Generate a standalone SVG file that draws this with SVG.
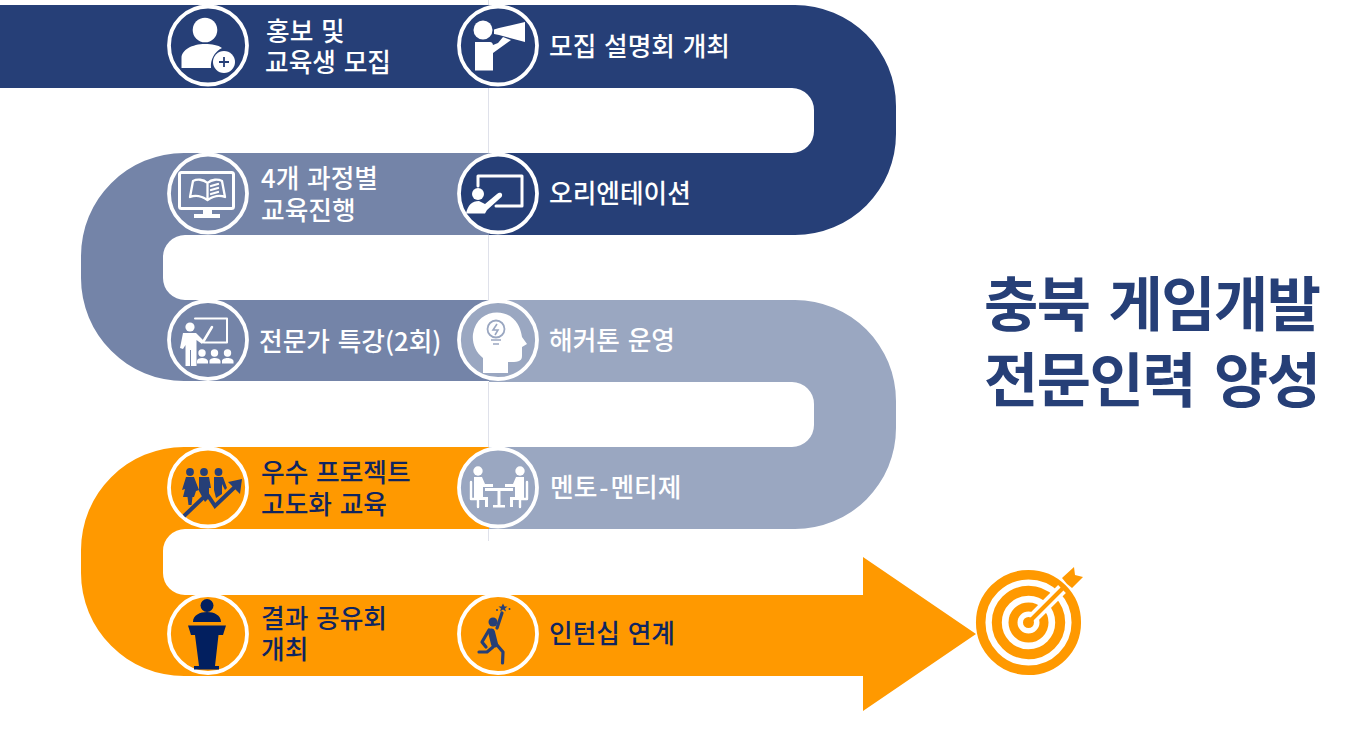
<svg xmlns="http://www.w3.org/2000/svg" width="1360" height="730" viewBox="0 0 1360 730">
<style>
text{font-family:"Noto Sans CJK KR","Noto Sans",sans-serif;font-weight:500;font-size:25.700px;word-spacing:2px}
.w{fill:#fff}.n{fill:#0f2560}
.ring{stroke:#fff;stroke-width:3.800}
.t{fill:#263f77;font-size:59px;font-weight:700;letter-spacing:-1.500px;word-spacing:7px}
.iw{fill:#fff}.in{fill:#263f77}.id{fill:#021f5f}
.sw{fill:none;stroke:#fff;stroke-linecap:round;stroke-linejoin:round}
.sn{fill:none;stroke:#263f77;stroke-linecap:round;stroke-linejoin:round}
</style>
<g id="connectors">
<path id="band-navy" fill="#263f77" d="M0 5H795A101 101 0 0 1 896 106V134A101 101 0 0 1 795 235H489V153H792A22 22 0 0 0 814 131V110A22 22 0 0 0 792 88H0Z"/>
<path id="band-slate" fill="#7484a8" d="M489 153H184A103 103 0 0 0 81 256V278A103 103 0 0 0 184 381H489V300H185A22 22 0 0 1 163 278V257A22 22 0 0 1 185 235H489Z"/>
<path id="band-light" fill="#9aa7c1" d="M489 300H795A101 101 0 0 1 896 401V428A101 101 0 0 1 795 529H489V447H792A22 22 0 0 0 814 425V404A22 22 0 0 0 792 382H489Z"/>
<path id="band-orange" fill="#ff9900" d="M489 447H184A103 103 0 0 0 81 550V573A103 103 0 0 0 184 676H863V711L976 634L863 557V595H185A22 22 0 0 1 163 573V551A22 22 0 0 1 185 529H489Z"/>
<path stroke="#dfe1ea" stroke-width="1" d="M488.500 0V5M488.500 88V153M488.500 235V300M488.500 382V447M488.500 529V541"/>
</g>
<g id="n-promo"><circle class="ring" cx="208" cy="45.500" r="39" fill="#263f77"/>
<circle class="iw" cx="205" cy="30" r="12.300"/><path class="iw" d="M181.500 68V58C181.500 50 192 44 205 44C212 44 218 45 222 48A20 20 0 0 0 211 68Z"/><circle class="iw" cx="224" cy="62" r="11"/><path d="M219 62H229M224 57V67" stroke="#263f77" stroke-width="1.800"/>
<text class="w"><tspan x="266" y="41">홍보 및</tspan><tspan x="265" y="72">교육생 모집</tspan></text></g>
<g id="n-info"><circle class="ring" cx="498" cy="45.500" r="39" fill="#263f77"/>
<circle class="iw" cx="483" cy="30" r="9.500"/><path class="iw" d="M475 42H490Q492.500 42 493 45V53L511 40L503 37L498 43L493 45V70.500H475Z"/><path class="iw" d="M494 29.500L499 28L525 22V42L499 35L494 34Z"/>
<text class="w" x="549" y="56">모집 설명회 개최</text></g>
<g id="n-ot"><circle class="ring" cx="498" cy="193.500" r="39" fill="#263f77"/>
<path class="sw" stroke-width="3" d="M478 186V176H522V206H496"/><circle class="iw" cx="478" cy="194" r="6"/><path class="iw" d="M466 213.500C468 205 472 201 479 201L485 204L497 194C500.500 191 503.500 194 501.500 197L487 210L485 213.500Z"/>
<text class="w" x="549" y="203">오리엔테이션</text></g>
<g id="n-course"><circle class="ring" cx="208" cy="193.500" r="39" fill="#7484a8"/>
<rect x="179.500" y="172.500" width="54" height="36" rx="2" fill="none" stroke="#fff" stroke-width="3"/><path class="iw" d="M203 208H212V214H220V218H194V214H203Z"/>
<path class="sw" stroke-width="2.300" d="M207.500 183C203 179 197 179 193 181L190 197C195 195 202 196 207.500 200C213 196 220 195 225 197L222 181C218 179 212 179 207.500 183V200M211 186L218 184M211 190L218 188M211 194L218 192"/>
<text class="w"><tspan x="261" y="188">4개 과정별</tspan><tspan x="261" y="220">교육진행</tspan></text></g>
<g id="n-lecture"><circle class="ring" cx="208" cy="340" r="39" fill="#7484a8"/>
<path class="sw" stroke-width="2" d="M195 318.500H227V342.500H204"/><path class="sw" stroke-width="2.500" d="M203 342L212 327"/>
<circle class="iw" cx="190" cy="327" r="4.600"/><path class="iw" d="M183 333H196L204 341L202 344L196.500 340V366H191V350H190V366H185.500V345L183 349L180 348Z"/>
<circle class="iw" cx="202" cy="353" r="3.700"/><circle class="iw" cx="214.500" cy="353" r="3.700"/><circle class="iw" cx="227.500" cy="353" r="3.700"/><path class="iw" d="M197 363.500V361C197 357 207 357 208 361V363.500ZM209.500 363.500V361C209.500 357 220 357 220.500 361V363.500ZM222 363.500V361C222 357 233 357 233.500 361V363.500Z"/>
<text class="w" x="259" y="351">전문가 특강(2회)</text></g>
<g id="n-hack"><circle class="ring" cx="498" cy="340" r="39" fill="#9aa7c1"/>
<path class="iw" d="M483 373V358C475 352 472 342 473 334C476 313 497 308 510 316C519 322 521 331 522 337L527 344L522 347V356C522 362 517 362 508 362V373Z"/>
<circle cx="496" cy="329" r="8.500" fill="none" stroke="#9aa7c1" stroke-width="1.800"/><path d="M497 324L493 330H498L495 335M491 340H501M493 344H499" fill="none" stroke="#9aa7c1" stroke-width="1.600"/>
<text class="w" x="549" y="350">해커톤 운영</text></g>
<g id="n-mentor"><circle class="ring" cx="498" cy="487.500" r="39" fill="#9aa7c1"/>
<circle class="iw" cx="478" cy="471" r="4.700"/><circle class="iw" cx="520" cy="471" r="4.700"/><path class="iw" d="M474 477H482L485 484H493V487H483V497H488V507H485V500H474ZM524 477H516L513 484H505V487H515V497H510V507H513V500H524Z"/><path class="iw" d="M485 488H513V491H500.500V505H505V507.500H493V505H497.500V491H485Z"/><path class="sw" stroke-width="2.400" d="M471 482V499H478V507M527 482V499H520V507"/>
<text class="w" x="550" y="497">멘토<tspan dx="2">-</tspan><tspan dx="2">멘티제</tspan></text></g>
<g id="n-advanced"><circle class="ring" cx="208" cy="487.500" r="39" fill="#ff9900"/>
<circle class="in" cx="190" cy="472" r="3.900"/><circle class="in" cx="204" cy="472" r="3.900"/><circle class="in" cx="218.500" cy="472" r="3.900"/><path class="in" d="M186 477H194L199 490L196 491L194 497H192.500L191.500 505H188.500L187.500 497H183L185 489L182 490ZM199 477H209L211 488H209V498L205 502L199 491ZM214 477H223L227 488L225 490L222 484V494L216 498L214 490Z"/>
<path d="M184 516L207 494L215 506L238 484" fill="none" stroke="#263f77" stroke-width="4"/><path class="in" d="M228 482L242 479L240 494Z"/>
<text class="n"><tspan x="261" y="482">우수 프로젝트</tspan><tspan x="261" y="514">고도화 교육</tspan></text></g>
<g id="n-share"><circle class="ring" cx="208" cy="634" r="39" fill="#ff9900"/>
<circle class="id" cx="207" cy="605.500" r="6.500"/><path class="id" d="M193 622C193 615 200 612 207 612C214 612 221 615 221 622ZM188 625.500H226L223 635H218.500L215 666H219V669.500H194V666H199L195 635H191Z"/>
<text class="n"><tspan x="261" y="628">결과 공유회</tspan><tspan x="261" y="659">개최</tspan></text></g>
<g id="n-intern"><circle class="ring" cx="498" cy="634" r="39" fill="#ff9900"/>
<circle class="in" cx="493" cy="622" r="4.500"/><path class="sn" stroke-width="3.200" d="M497 628L502 613M489 630L482 642L486 647M497 645L503 652L502.500 663M493 647L487 652H479"/><path class="sn" stroke-width="7" d="M491.500 632L494.500 644"/><path class="in" d="M503 603.500L504.500 606.500H507.500L505 608.500L506 611.500L503 609.500L500 611.500L501 608.500L498.500 606.500H501.500Z"/><circle class="in" cx="497" cy="610" r="1"/><circle class="in" cx="509.500" cy="609" r="1"/>
<text class="n" x="549" y="643">인턴십 연계</text></g>
<g id="target">
<circle cx="1028.500" cy="622.500" r="47.800" fill="none" stroke="#ff9900" stroke-width="9.500"/>
<circle cx="1028.500" cy="622.500" r="31.700" fill="none" stroke="#ff9900" stroke-width="10"/>
<circle cx="1028.500" cy="622.500" r="15.500" fill="none" stroke="#ff9900" stroke-width="9"/>
<path stroke="#fff" stroke-width="11" d="M1028.500 622.500L1062 589"/>
<circle cx="1028.500" cy="622.500" r="5.500" fill="#ff9900"/>
<path fill="none" stroke="#ff9900" stroke-width="4" d="M1028.500 622.500L1064 587"/>
<path fill="#ff9900" d="M1062 578L1074 567L1075 575L1083 577L1072 588L1067 584Z"/>
</g>
<g id="title"><text class="t"><tspan x="984" y="326">충북 게임개발</tspan><tspan x="984" y="402">전문인력 양성</tspan></text></g>
</svg>
